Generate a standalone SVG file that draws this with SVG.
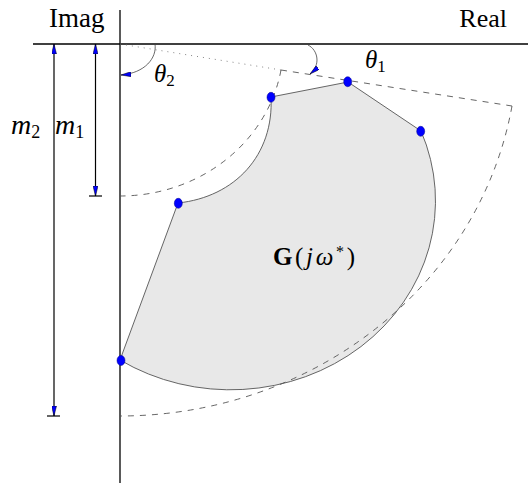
<svg xmlns="http://www.w3.org/2000/svg" width="528" height="483" viewBox="0 0 528 483">
<style>
.axis{stroke:#000;stroke-width:1.3;fill:none}
.dash{stroke:#555;stroke-width:0.9;fill:none;stroke-dasharray:6 6}
.dot{stroke:#777;stroke-width:0.9;fill:none;stroke-dasharray:1 5}
.dim{stroke:#000;stroke-width:1.2;fill:none}
.ang{stroke:#444;stroke-width:0.8;fill:none}
.lbl{font-family:"Liberation Serif",serif;fill:#000}
.it{font-style:italic}
.pt{fill:#0000ff;stroke:#00008b;stroke-width:0.5}
</style>
<defs>
<marker id="ah" viewBox="0 0 10 5" refX="10" refY="2.5" markerWidth="10" markerHeight="5" orient="auto-start-reverse" markerUnits="userSpaceOnUse">
<path d="M0,0 L10,2.5 L0,5 z" fill="#0000ff" stroke="#000" stroke-width="0.5"/>
</marker>
</defs>
<g id="axes">
<line class="axis" x1="33" y1="44" x2="528" y2="44"/>
<line class="axis" x1="120" y1="10" x2="120" y2="483"/>
<text class="lbl" x="49" y="27" font-size="27">Imag</text>
<text class="lbl" x="507" y="27" font-size="26" text-anchor="end">Real</text>
</g>
<g id="region">
<path d="M120,360 L178,203 C235,197 274,155 271,97 L348,82 L421,131 A205,189 0 0 1 120,360 Z" fill="#e8e8e8" stroke="#555" stroke-width="0.9"/>
<text class="lbl" x="273" y="265" font-size="25" textLength="82" lengthAdjust="spacing"><tspan font-weight="bold">G</tspan>(<tspan class="it">jω</tspan><tspan font-size="16" dy="-8">*</tspan><tspan dy="8">)</tspan></text>
</g>
<g id="connectors">
<path class="dot" d="M120,44 L281,70"/>
<path class="dash" d="M281,70 L512,106"/>
<path class="dash" d="M281,70 A163.4,152 0 0 1 120,196"/>
<path class="dash" d="M512,106 A398,372 0 0 1 120,416"/>
<path class="dim" d="M54,44 L54,416" marker-start="url(#ah)" marker-end="url(#ah)"/>
<path class="dim" d="M47,416 L60,416"/>
<path class="dim" d="M95.5,44 L95.5,196" marker-start="url(#ah)" marker-end="url(#ah)"/>
<path class="dim" d="M89,196 L102,196"/>
<path class="ang" d="M155,44 C157,58 145,73 121,75" marker-end="url(#ah)"/>
<path class="ang" d="M308,45 C318,50 321,65 310,74" marker-end="url(#ah)"/>
</g>
<g id="points">
<ellipse class="pt" cx="121" cy="360.5" rx="4" ry="5"/>
<ellipse class="pt" cx="178.3" cy="203.3" rx="4" ry="5"/>
<ellipse class="pt" cx="271" cy="97.3" rx="4" ry="5"/>
<ellipse class="pt" cx="347.7" cy="81.7" rx="4" ry="5"/>
<ellipse class="pt" cx="420.7" cy="131.3" rx="4" ry="5"/>
</g>
<g id="labels">
<text class="lbl it" x="11" y="134" font-size="28">m<tspan font-size="18" font-style="normal" dy="4">2</tspan></text>
<text class="lbl it" x="55" y="134" font-size="28">m<tspan font-size="18" font-style="normal" dy="4">1</tspan></text>
<text class="lbl it" x="154" y="82" font-size="25">θ<tspan font-size="17" font-style="normal" dy="4">2</tspan></text>
<text class="lbl it" x="365" y="68" font-size="25">θ<tspan font-size="17" font-style="normal" dy="4">1</tspan></text>
</g>
</svg>
